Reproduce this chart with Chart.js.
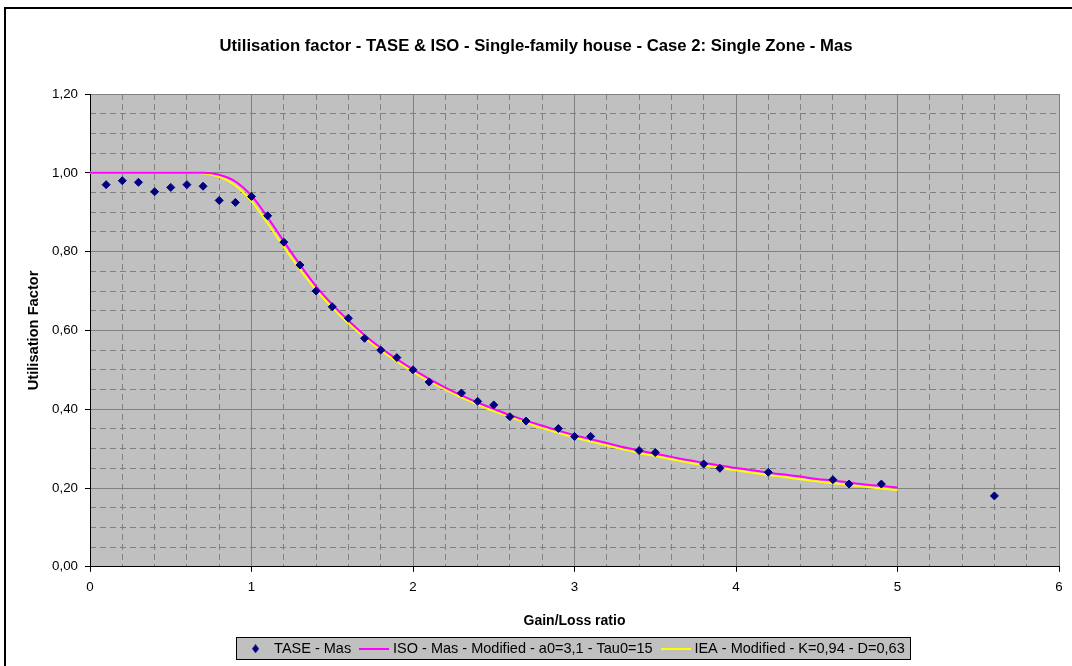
<!DOCTYPE html>
<html>
<head>
<meta charset="utf-8">
<title>Utilisation factor - TASE &amp; ISO - Single-family house - Case 2</title>
<script src="https://cdn.jsdelivr.net/npm/chart.js@4.4.1/dist/chart.umd.min.js"></script>
<style>
  html, body { margin: 0; padding: 0; background: #fff; }
  #wrap { width: 1072px; height: 666px; }
</style>
</head>
<body>
<div id="wrap"><canvas id="utilChart" width="1072" height="666"></canvas></div>
<script>
// TASE simulation points (gain/loss ratio -> utilisation factor)
const gainLossTase = [0.1, 0.2, 0.3, 0.4, 0.5, 0.6, 0.7, 0.8, 0.9, 1.0,
    1.1, 1.2, 1.3, 1.4, 1.5, 1.6, 1.7, 1.8, 1.9, 2.0,
    2.1, 2.3, 2.4, 2.5, 2.6, 2.7, 2.9, 3.0, 3.1, 3.4,
    3.5, 3.8, 3.9, 4.2, 4.6, 4.7, 4.9, 5.6];
const taseMas = [0.970, 0.980, 0.976, 0.952, 0.963, 0.970, 0.966, 0.930, 0.925, 0.940,
    0.891, 0.824, 0.766, 0.700, 0.660, 0.631, 0.580, 0.550, 0.531, 0.500,
    0.469, 0.441, 0.420, 0.411, 0.381, 0.370, 0.351, 0.331, 0.331, 0.295,
    0.290, 0.261, 0.250, 0.240, 0.221, 0.210, 0.210, 0.180];

// curves
const gainLossCurve = [0.0, 0.1, 0.2, 0.3, 0.4, 0.5, 0.6, 0.7, 0.8, 0.9,
    1.0, 1.1, 1.2, 1.3, 1.4, 1.5, 1.6, 1.7, 1.8, 1.9,
    2.0, 2.1, 2.2, 2.3, 2.4, 2.5, 2.6, 2.7, 2.8, 2.9,
    3.0, 3.1, 3.2, 3.3, 3.4, 3.5, 3.6, 3.7, 3.8, 3.9,
    4.0, 4.1, 4.2, 4.3, 4.4, 4.5, 4.6, 4.7, 4.8, 4.9, 5.0];
const isoMasModified = [1.000, 1.000, 1.000, 1.000, 1.000, 1.000, 1.000, 1.000, 0.995, 0.978,
    0.942, 0.887, 0.826, 0.767, 0.712, 0.666, 0.625, 0.588, 0.556, 0.527,
    0.501, 0.477, 0.455, 0.435, 0.417, 0.401, 0.385, 0.371, 0.358, 0.346,
    0.334, 0.324, 0.314, 0.304, 0.295, 0.287, 0.279, 0.271, 0.264, 0.257,
    0.251, 0.245, 0.239, 0.234, 0.229, 0.223, 0.219, 0.214, 0.209, 0.205, 0.201];
const ieaModified = [1.000, 1.000, 1.000, 1.000, 1.000, 1.000, 1.000, 0.999, 0.990, 0.968,
    0.928, 0.872, 0.812, 0.755, 0.703, 0.658, 0.618, 0.582, 0.550, 0.521,
    0.495, 0.471, 0.450, 0.430, 0.412, 0.395, 0.380, 0.366, 0.352, 0.340,
    0.328, 0.318, 0.308, 0.298, 0.289, 0.281, 0.273, 0.265, 0.258, 0.251,
    0.245, 0.239, 0.233, 0.228, 0.222, 0.217, 0.212, 0.208, 0.203, 0.199, 0.195];

const xTickLabels = ['0', '1', '2', '3', '4', '5', '6'];
const yTickLabels = ['0,00', '0,20', '0,40', '0,60', '0,80', '1,00', '1,20'];

const FONT = '"Liberation Sans", Arial, sans-serif';
Chart.defaults.font.family = FONT;
Chart.defaults.color = '#000';

// small images used as legend symbols
function legendDiamond(color) {
    const c = document.createElement('canvas');
    c.width = 7; c.height = 9;
    const g = c.getContext('2d');
    g.fillStyle = color;
    g.beginPath();
    g.moveTo(3.5, 0); g.lineTo(7, 4.5); g.lineTo(3.5, 9); g.lineTo(0, 4.5);
    g.closePath();
    g.fill();
    return c;
}
function legendLine(color) {
    const c = document.createElement('canvas');
    c.width = 30; c.height = 2;
    const g = c.getContext('2d');
    g.fillStyle = color;
    g.fillRect(0, 0, 30, 2);
    return c;
}
const legendSymbols = [legendDiamond('#000080'), legendLine('#ff00ff'), legendLine('#ffff00')];

// white page, grey plot area, framed legend and the outer chart border
const chartFrame = {
    id: 'chartFrame',
    beforeDraw(chart) {
        const { ctx, chartArea: a } = chart;
        ctx.save();
        ctx.fillStyle = '#fff';
        ctx.fillRect(0, 0, chart.width, chart.height);
        ctx.fillStyle = '#c0c0c0';
        ctx.fillRect(a.left, a.top, a.right - a.left, a.bottom - a.top);

        const boxes = chart.legend.legendHitBoxes;
        if (boxes && boxes.length) {
            let l = Infinity, r = -Infinity, t = Infinity, b = -Infinity;
            boxes.forEach(h => {
                l = Math.min(l, h.left);
                r = Math.max(r, h.left + h.width);
                t = Math.min(t, h.top);
                b = Math.max(b, h.top + h.height);
            });
            const x0 = Math.round(l - 8) + 0.5, x1 = Math.round(r + 5) + 0.5;
            const y0 = Math.round(t - 5) + 0.5, y1 = Math.round(b + 3) + 0.5;
            ctx.fillStyle = '#c0c0c0';
            ctx.fillRect(x0, y0, x1 - x0, y1 - y0);
            ctx.strokeStyle = '#000';
            ctx.lineWidth = 1;
            ctx.strokeRect(x0, y0, x1 - x0, y1 - y0);
        }

        ctx.strokeStyle = '#000';
        ctx.lineWidth = 2;
        ctx.beginPath();
        ctx.moveTo(5, chart.height);
        ctx.lineTo(5, 8);
        ctx.lineTo(chart.width, 8);
        ctx.stroke();
        ctx.restore();
    }
};

const ctx = document.getElementById('utilChart');
new Chart(ctx, {
    type: 'scatter',
    data: {
        datasets: [{
            label: 'TASE - Mas',
            data: gainLossTase.map((x, i) => ({ x, y: taseMas[i] })),
            showLine: false,
            pointStyle: 'rectRot',
            pointRadius: 4,
            pointBorderWidth: 1,
            pointBackgroundColor: '#000080',
            pointBorderColor: '#000080'
        }, {
            label: 'ISO - Mas - Modified - a0=3,1 - Tau0=15',
            data: gainLossCurve.map((x, i) => ({ x, y: isoMasModified[i] })),
            showLine: true,
            borderColor: '#ff00ff',
            backgroundColor: '#ff00ff',
            borderWidth: 2,
            pointRadius: 0,
            cubicInterpolationMode: 'monotone'
        }, {
            label: 'IEA - Modified - K=0,94 - D=0,63',
            data: gainLossCurve.map((x, i) => ({ x, y: ieaModified[i] })),
            showLine: true,
            borderColor: '#ffff00',
            backgroundColor: '#ffff00',
            borderWidth: 2,
            pointRadius: 0,
            cubicInterpolationMode: 'monotone'
        }]
    },
    options: {
        responsive: false,
        animation: false,
        events: [],
        layout: { padding: 0 },
        plugins: {
            title: {
                display: true,
                text: 'Utilisation factor - TASE & ISO - Single-family house - Case 2: Single Zone - Mas',
                color: '#000',
                font: { size: 16.7, weight: 'bold' },
                padding: { top: 36, bottom: 38 }
            },
            legend: {
                position: 'bottom',
                fullSize: false,
                labels: {
                    usePointStyle: true,
                    pointStyleWidth: 22.6,
                    padding: 12,
                    color: '#000',
                    font: { size: 14.5 },
                    generateLabels(chart) {
                        const items = Chart.defaults.plugins.legend.labels.generateLabels(chart);
                        items.forEach(it => { it.pointStyle = legendSymbols[it.datasetIndex]; });
                        return items;
                    }
                }
            },
            tooltip: { enabled: false }
        },
        scales: {
            x: {
                type: 'linear',
                position: 'bottom',
                min: 0,
                max: 6,
                ticks: {
                    stepSize: 1,
                    padding: 8,
                    maxRotation: 0,
                    font: { size: 13.33 },
                    callback: v => xTickLabels[Math.round(v)]
                },
                grid: { color: '#808080', tickColor: '#000', tickLength: 5 },
                border: { color: '#000' },
                title: {
                    display: true,
                    text: 'Gain/Loss ratio',
                    font: { size: 14, weight: 'bold' },
                    padding: { top: 9.5, bottom: 0 }
                },
                afterFit(s) { s.height = 62.7; }
            },
            xMinor: {
                type: 'linear',
                position: 'top',
                min: 0,
                max: 6,
                ticks: { stepSize: 0.2, display: false },
                grid: { color: '#808080', drawTicks: false, z: -2 },
                border: { display: false, dash: [6, 4] },
                afterFit(s) { s.height = 0; }
            },
            y: {
                type: 'linear',
                position: 'left',
                min: 0,
                max: 1.2,
                ticks: {
                    stepSize: 0.2,
                    padding: 7,
                    font: { size: 13.33 },
                    callback: v => yTickLabels[Math.round(v / 0.2)]
                },
                grid: { color: '#808080', tickColor: '#000', tickLength: 5 },
                border: { color: '#000' },
                title: {
                    display: true,
                    text: 'Utilisation Factor',
                    font: { size: 14.67, weight: 'bold' },
                    padding: { top: 25, bottom: 0 }
                },
                afterFit(s) { s.width = 90; }
            },
            yMinor: {
                type: 'linear',
                position: 'right',
                min: 0,
                max: 1.2,
                ticks: { stepSize: 0.05, display: false },
                grid: { color: '#808080', drawTicks: false, z: -2 },
                border: { display: false, dash: [6, 4] },
                afterFit(s) { s.width = 13; }
            }
        }
    },
    plugins: [chartFrame]
});
</script>
</body>
</html>
